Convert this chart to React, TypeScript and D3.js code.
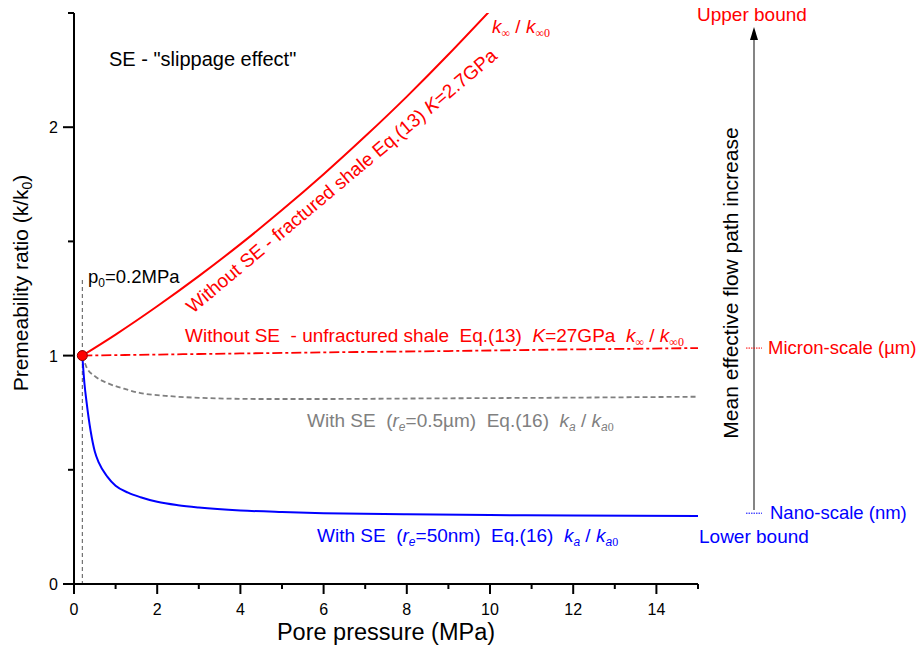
import React from "react";
import * as d3 from "d3";

// Pore pressure (MPa) and permeability ratio (k/k0) for each curve
const fracturedP = [0.2, 1, 2, 3, 4, 5, 6, 7, 8, 9, 10];
const fracturedK = [1.0, 1.092, 1.216, 1.348, 1.488, 1.637, 1.794, 1.96, 2.134, 2.318, 2.51];

const unfracturedP = [0.2, 3, 6, 9, 12, 15];
const unfracturedK = [1.0, 1.007, 1.014, 1.02, 1.027, 1.033];

const microP = [0.2, 0.3, 0.5, 0.8, 1.2, 1.6, 2.2, 3.2, 4.5, 6, 8, 10, 12, 15];
const microK = [1.0, 0.95, 0.91, 0.88, 0.855, 0.836, 0.824, 0.814, 0.81, 0.81, 0.812, 0.814, 0.816, 0.82];

const nanoP = [0.2, 0.25, 0.3, 0.4, 0.5, 0.6, 0.8, 1.0, 1.3, 1.6, 2.0, 2.5, 3, 4, 5, 6, 8, 10, 12, 15];
const nanoK = [1.0, 0.88, 0.8, 0.67, 0.58, 0.53, 0.47, 0.43, 0.4, 0.38, 0.36, 0.345, 0.335, 0.322, 0.315, 0.31, 0.305, 0.302, 0.3, 0.298];

const xMajorTicks = [0, 2, 4, 6, 8, 10, 12, 14];
const xMinorTicks = [1, 3, 5, 7, 9, 11, 13, 15];
const yMajorTicks = [0, 1, 2];
const yMinorTicks = [0.5, 1.5, 2.5];

const p0 = 0.2;
const micronLevel = 1.033;
const nanoLevel = 0.31;

const SANS = "Arial, 'Liberation Sans', sans-serif";
const SERIF = "'Times New Roman', 'Liberation Serif', serif";
const RED = "#ff0000";
const BLUE = "#0000ff";
const GRAY = "#808080";

const x = d3.scaleLinear().domain([0, 15]).range([74, 698]);
const y = d3.scaleLinear().domain([0, 2.5]).range([584, 13]);

const line = d3
  .line<[number, number]>()
  .x((d) => x(d[0]))
  .y((d) => y(d[1]))
  .curve(d3.curveMonotoneX);

const smoothLine = d3
  .line<[number, number]>()
  .x((d) => x(d[0]))
  .y((d) => y(d[1]))
  .curve(d3.curveNatural);

const pairs = (ps: number[], ks: number[]) => ps.map((p, i) => [p, ks[i]] as [number, number]);

// k_a / k_a0 style ratio: italic k with small subscripts
function KRatio({ kind }: { kind: "inf" | "a" }) {
  const sub1 =
    kind === "inf" ? (
      <tspan dy={4} fontSize={12} fontFamily={SERIF}>∞</tspan>
    ) : (
      <tspan dy={4} fontSize={12} fontStyle="italic">a</tspan>
    );
  const sub2 =
    kind === "inf" ? (
      <tspan dy={4} fontSize={12} fontFamily={SERIF}>∞0</tspan>
    ) : (
      <>
        <tspan dy={4} fontSize={12} fontStyle="italic">a</tspan>
        <tspan fontSize={12} fontFamily={SERIF}>0</tspan>
      </>
    );
  return (
    <>
      <tspan fontStyle="italic">k</tspan>
      {sub1}
      <tspan dy={-4}>{" / "}</tspan>
      <tspan fontStyle="italic">k</tspan>
      {sub2}
    </>
  );
}

export default function App() {
  return (
    <div style={{ position: "absolute", left: 0, top: 0 }}>
      <svg width={921} height={650} style={{ display: "block", background: "#fff" }} fontFamily={SANS}>
        <defs>
          <clipPath id="plotClip">
            <rect x={x(0)} y={y(2.5)} width={x(15) - x(0)} height={y(0) - y(2.5)} />
          </clipPath>
        </defs>

        {/* p0 marker line */}
        <line x1={x(p0)} x2={x(p0)} y1={280} y2={y(0)} stroke="#555" strokeWidth={1} strokeDasharray="4 3" />

        <g clipPath="url(#plotClip)" fill="none">
          <path d={smoothLine(pairs(fracturedP, fracturedK)) || ""} stroke={RED} strokeWidth={2} />
          <path d={line(pairs(unfracturedP, unfracturedK)) || ""} stroke={RED} strokeWidth={1.8} strokeDasharray="10 3 3 3" />
          <path d={line(pairs(microP, microK)) || ""} stroke={GRAY} strokeWidth={1.8} strokeDasharray="5 3" />
          <path d={line(pairs(nanoP, nanoK)) || ""} stroke={BLUE} strokeWidth={2} />
        </g>

        <circle cx={x(p0)} cy={y(1)} r={5} fill={RED} stroke="#800" strokeWidth={1} />

        {/* axes */}
        <g stroke="#000" strokeWidth={2}>
          <line x1={x(0)} x2={x(0)} y1={y(2.5)} y2={y(0) + 1} />
          <line x1={x(0)} x2={x(15)} y1={y(0)} y2={y(0)} />
          {xMajorTicks.map((t) => (
            <line key={"xM" + t} x1={x(t)} x2={x(t)} y1={y(0)} y2={y(0) + 10} />
          ))}
          {xMinorTicks.map((t) => (
            <line key={"xm" + t} x1={x(t)} x2={x(t)} y1={y(0)} y2={y(0) + 5} />
          ))}
          {yMajorTicks.map((t) => (
            <line key={"yM" + t} x1={x(0) - 11} x2={x(0)} y1={y(t)} y2={y(t)} />
          ))}
          {yMinorTicks.map((t) => (
            <line key={"ym" + t} x1={x(0) - 6} x2={x(0)} y1={y(t)} y2={y(t)} />
          ))}
        </g>
        <g fontSize={16} fill="#000">
          {xMajorTicks.map((t) => (
            <text key={"xl" + t} x={x(t)} y={615} textAnchor="middle">{t}</text>
          ))}
          {yMajorTicks.map((t) => (
            <text key={"yl" + t} x={58} y={y(t) + 6} textAnchor="end">{t}</text>
          ))}
        </g>

        <text x={(x(0) + x(15)) / 2} y={640} textAnchor="middle" fontSize={23.5}>Pore pressure (MPa)</text>
        <text transform={`translate(28,${283}) rotate(-90)`} textAnchor="middle" fontSize={21}>
          Premeability ratio (k/k<tspan dy={4} fontSize={14}>0</tspan><tspan dy={-4}>)</tspan>
        </text>

        <text x={109} y={66} fontSize={20}>SE - "slippage effect"</text>

        <text x={88} y={283} fontSize={18.5}>
          p<tspan dy={4} fontSize={12}>0</tspan><tspan dy={-4}>=0.2MPa</tspan>
        </text>

        {/* curve labels */}
        <text transform="translate(193,314) rotate(-40)" fontSize={19} fill={RED} style={{ whiteSpace: "pre" }}>
          Without SE - fractured shale Eq.(13) <tspan fontStyle="italic">K</tspan>=2.7GPa
        </text>
        <text x={492} y={33} fontSize={19} fill={RED} style={{ whiteSpace: "pre" }}>
          <KRatio kind="inf" />
        </text>

        <text x={185} y={342} fontSize={19} fill={RED} style={{ whiteSpace: "pre" }}>
          {"Without SE  - unfractured shale  Eq.(13)  "}
          <tspan fontStyle="italic">K</tspan>
          {"=27GPa  "}
          <KRatio kind="inf" />
        </text>

        <text x={307} y={427} fontSize={19} fill={GRAY} style={{ whiteSpace: "pre" }}>
          {"With SE  ("}
          <tspan fontStyle="italic">r</tspan>
          <tspan dy={4} fontSize={12} fontStyle="italic">e</tspan>
          <tspan dy={-4}>{"=0.5µm)  Eq.(16)  "}</tspan>
          <KRatio kind="a" />
        </text>

        <text x={317} y={542} fontSize={19} fill={BLUE} style={{ whiteSpace: "pre" }}>
          {"With SE  ("}
          <tspan fontStyle="italic">r</tspan>
          <tspan dy={4} fontSize={12} fontStyle="italic">e</tspan>
          <tspan dy={-4}>{"=50nm)  Eq.(16)  "}</tspan>
          <KRatio kind="a" />
        </text>

        {/* flow path scale on the right */}
        <line x1={754} x2={754} y1={38} y2={510} stroke="#333" strokeWidth={1.2} />
        <path d="M754,27 L750,40 L758,40 Z" fill="#000" />
        <line x1={746} x2={762} y1={y(micronLevel)} y2={y(micronLevel)} stroke={RED} strokeWidth={1} strokeDasharray="1.5 1" />
        <line x1={746} x2={762} y1={y(nanoLevel)} y2={y(nanoLevel)} stroke={BLUE} strokeWidth={1} strokeDasharray="1.5 1" />
        <text x={697} y={21} fontSize={19} fill={RED}>Upper bound</text>
        <text x={768} y={y(micronLevel) + 6} fontSize={18.5} fill={RED}>Micron-scale (µm)</text>
        <text x={770} y={y(nanoLevel) + 6} fontSize={18.5} fill={BLUE}>Nano-scale (nm)</text>
        <text x={699} y={543} fontSize={19} fill={BLUE}>Lower bound</text>
        <text transform="translate(738,283) rotate(-90)" textAnchor="middle" fontSize={21}>
          Mean effective flow path increase
        </text>
      </svg>
    </div>
  );
}
